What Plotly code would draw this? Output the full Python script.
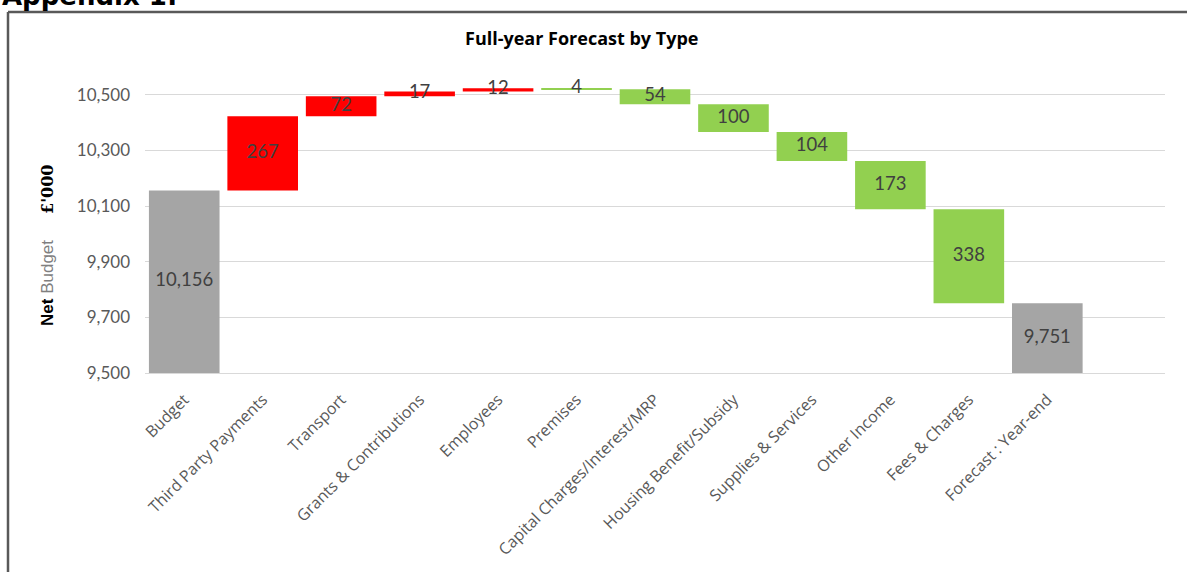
import plotly.graph_objects as go

categories = ["Budget", "Third Party Payments", "Transport", "Grants & Contributions",
              "Employees", "Premises", "Capital Charges/Interest/MRP",
              "Housing Benefit/Subsidy", "Supplies & Services", "Other Income",
              "Fees & Charges", "Forecast : Year-end"]
values = [10156, 267, 72, 17, 12, -4, -54, -100, -104, -173, -338, 9751]
measures = ["absolute", "relative", "relative", "relative", "relative", "relative",
            "relative", "relative", "relative", "relative", "relative", "total"]
y_ticks = [9500, 9700, 9900, 10100, 10300, 10500]

Y_MIN, Y_MAX = 9500, 10600
GREY, RED, GREEN = "#A5A5A5", "#FF0000", "#92D050"

bases, heights, colors, labels, mids = [], [], [], [], []
running = 0
for v, m in zip(values, measures):
    if m == "absolute" or m == "total":
        running = v
        bases.append(0)
        heights.append(v)
        colors.append(GREY)
        mids.append((max(0, Y_MIN) + v) / 2)
        labels.append(f"{v:,}")
    else:
        start = running
        running = running + v
        lo, hi = min(start, running), max(start, running)
        bases.append(lo)
        heights.append(hi - lo)
        colors.append(RED if v > 0 else GREEN)
        mids.append((lo + hi) / 2)
        labels.append(f"{abs(v):,}")

xs = list(range(len(categories)))

fig = go.Figure()
fig.add_trace(go.Bar(x=xs, y=heights, base=bases, marker=dict(color=colors, line=dict(width=0)),
                     width=0.9, hoverinfo="skip", showlegend=False))
fig.add_trace(go.Scatter(x=xs, y=mids, mode="text", text=labels,
                         textfont=dict(family="Lato", size=18.5, color="#404040"),
                         textposition="middle center", hoverinfo="skip", showlegend=False,
                         cliponaxis=False))

L, R, T, B = 145, 22, 67, 199
W, H = 1187, 572
pw, ph = W - L - R, H - T - B

def px(x):
    return (x - L) / pw

def py(y):
    return (H - B - y) / ph

fig.update_layout(
    width=W, height=H,
    margin=dict(l=L, r=R, t=T, b=B, pad=0),
    paper_bgcolor="white", plot_bgcolor="white",
    bargap=0.1,
    xaxis=dict(range=[-0.5, 12.5], tickmode="array", tickvals=xs, ticktext=categories,
               tickangle=-45, tickfont=dict(family="Open Sans", size=16, color="#595959"),
               showgrid=False, zeroline=False, showline=True, linecolor="#d9d9d9",
               linewidth=1, ticks="", ticklabelstandoff=10),
    yaxis=dict(range=[Y_MIN, Y_MAX], tickmode="array", tickvals=y_ticks,
               ticktext=[f"{t:,}" for t in y_ticks],
               tickfont=dict(family="Lato", size=17, color="#595959"),
               showgrid=True, gridcolor="#d9d9d9", gridwidth=1, zeroline=False,
               showline=False, ticks="", ticklabelstandoff=14),
    shapes=[
        dict(type="line", xref="paper", yref="paper", x0=px(8), x1=px(8), y0=py(12), y1=py(600),
             line=dict(color="#595959", width=2.5)),
        dict(type="line", xref="paper", yref="paper", x0=px(8), x1=px(1200), y0=py(12), y1=py(12),
             line=dict(color="#595959", width=2.5)),
    ],
    annotations=[
        dict(text="<b>Appendix 1:</b>", xref="paper", yref="paper", x=px(0), y=py(-4),
             xanchor="left", yanchor="middle", showarrow=False,
             font=dict(family="DejaVu Sans", size=26, color="black")),
        dict(text="<b>Full-year Forecast by Type</b>", xref="paper", yref="paper",
             x=px(581), y=py(38), xanchor="center", yanchor="middle", showarrow=False,
             font=dict(family="Open Sans", size=18, color="black")),
        dict(text="<b>Net</b> <span style='color:#7f7f7f'>Budget</span>", xref="paper", yref="paper",
             x=px(47), y=py(283), xanchor="center", yanchor="middle", showarrow=False, textangle=-90,
             font=dict(family="Liberation Sans", size=17, color="black")),
        dict(text="<b>£'000</b>", xref="paper", yref="paper",
             x=px(47), y=py(190), xanchor="center", yanchor="middle", showarrow=False, textangle=-90,
             font=dict(family="DejaVu Serif", size=16, color="black")),
    ],
)

fig.write_html("out.html")
